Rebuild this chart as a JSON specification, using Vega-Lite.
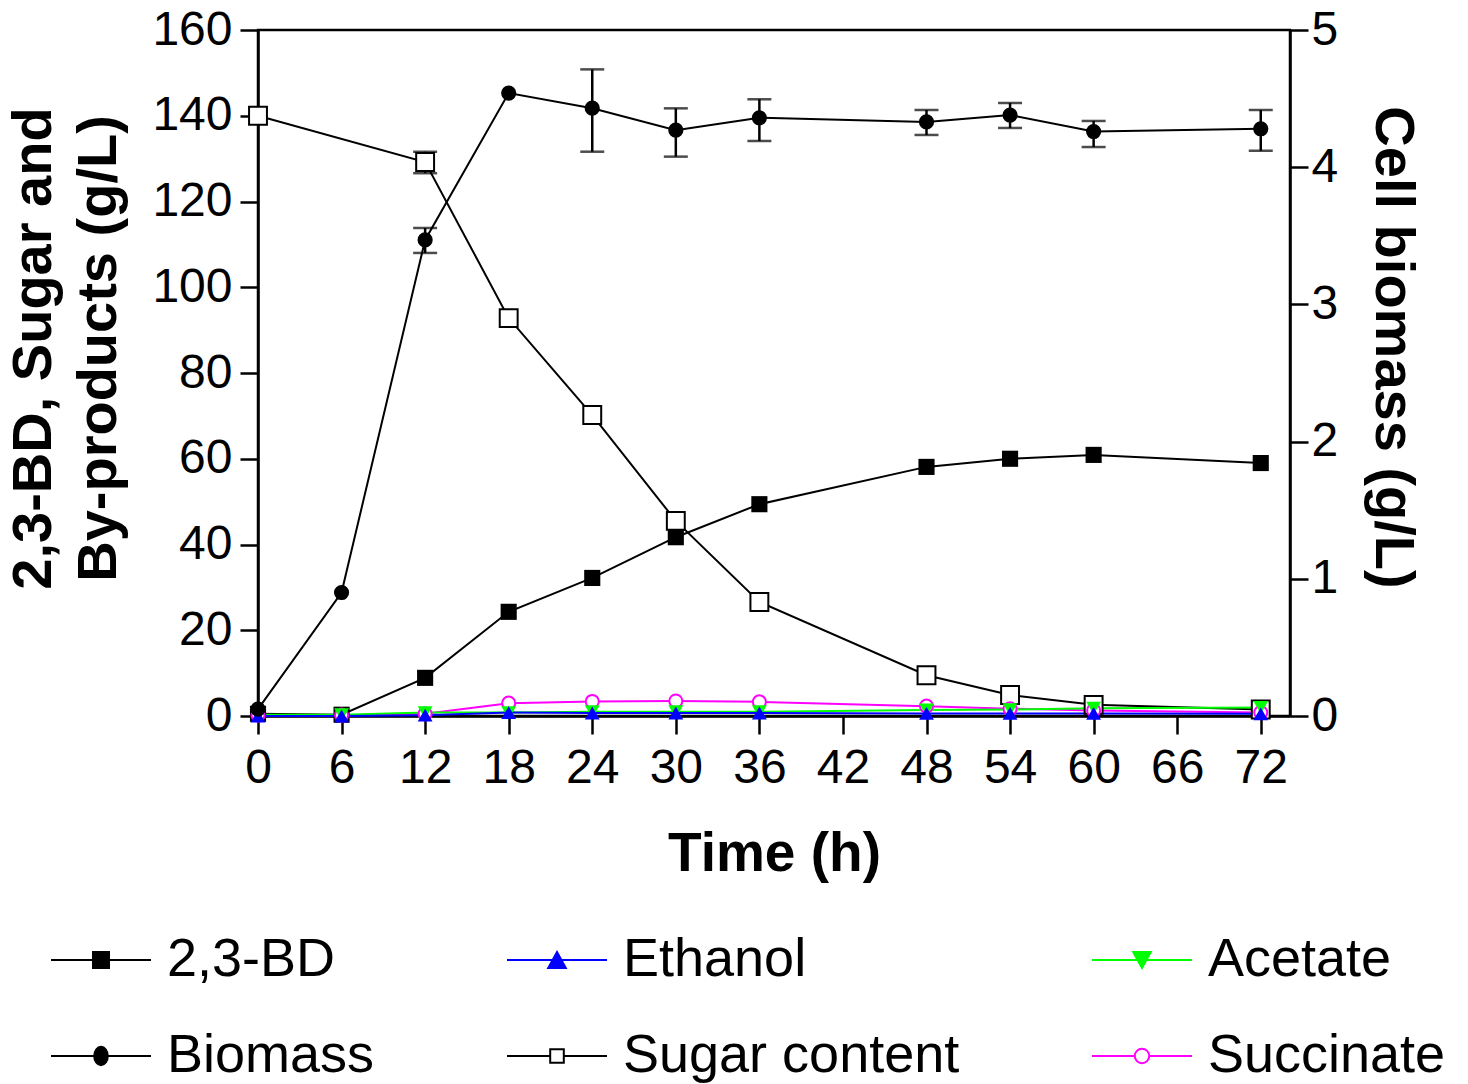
{
  "$schema": "https://vega.github.io/schema/vega-lite/v6.json",
  "width": 1032,
  "height": 686,
  "autosize": {"type": "none"},
  "padding": {"left": 258, "top": 30, "right": 178, "bottom": 368},
  "background": "white",
  "config": {
    "font": "Liberation Sans",
    "view": {"stroke": "black", "strokeWidth": 2.5},
    "axis": {
      "grid": false, "domainColor": "black", "domainWidth": 2.5,
      "tickColor": "black", "tickWidth": 2.5, "tickSize": 18,
      "labelColor": "black", "labelFontSize": 48, "labelFont": "Liberation Sans",
      "labelOverlap": false, "labelFlush": false,
      "titleFont": "Liberation Sans", "titleColor": "black", "titleFontWeight": "bold", "titleFontSize": 56
    },
    "legend": {
      "orient": "none", "legendX": -229, "legendY": 903, "columns": 3, "direction": "horizontal",
      "labelFontSize": 54, "labelColor": "black", "labelFont": "Liberation Sans", "labelLimit": 600,
      "symbolSize": 256, "symbolOffset": 45, "labelOffset": 39, "symbolStrokeWidth": 2, "symbolOpacity": 1,
      "rowPadding": 42, "columnPadding": 110, "padding": 0
    }
  },
  "datasets": {
    "main": [
      {"series": "2,3-BD", "t": 0, "v": 0.5},
      {"series": "2,3-BD", "t": 6, "v": 0.3},
      {"series": "2,3-BD", "t": 12, "v": 8.9},
      {"series": "2,3-BD", "t": 18, "v": 24.3},
      {"series": "2,3-BD", "t": 24, "v": 32.2},
      {"series": "2,3-BD", "t": 30, "v": 41.7},
      {"series": "2,3-BD", "t": 36, "v": 49.4},
      {"series": "2,3-BD", "t": 48, "v": 58.1},
      {"series": "2,3-BD", "t": 54, "v": 60.0},
      {"series": "2,3-BD", "t": 60, "v": 60.9},
      {"series": "2,3-BD", "t": 72, "v": 59.0},
      {"series": "Sugar content", "t": 0, "v": 140.0},
      {"series": "Sugar content", "t": 12, "v": 129.2, "lo": 126.6, "hi": 131.6},
      {"series": "Sugar content", "t": 18, "v": 92.8},
      {"series": "Sugar content", "t": 24, "v": 70.2},
      {"series": "Sugar content", "t": 30, "v": 45.5},
      {"series": "Sugar content", "t": 36, "v": 26.6},
      {"series": "Sugar content", "t": 48, "v": 9.5},
      {"series": "Sugar content", "t": 54, "v": 4.9},
      {"series": "Sugar content", "t": 60, "v": 2.6},
      {"series": "Sugar content", "t": 72, "v": 1.5},
      {"series": "Succinate", "t": 0, "v": 0.2},
      {"series": "Succinate", "t": 6, "v": 0.2},
      {"series": "Succinate", "t": 12, "v": 0.5},
      {"series": "Succinate", "t": 18, "v": 3.0},
      {"series": "Succinate", "t": 24, "v": 3.4},
      {"series": "Succinate", "t": 30, "v": 3.5},
      {"series": "Succinate", "t": 36, "v": 3.3},
      {"series": "Succinate", "t": 48, "v": 2.3},
      {"series": "Succinate", "t": 54, "v": 1.7},
      {"series": "Succinate", "t": 60, "v": 1.3},
      {"series": "Succinate", "t": 72, "v": 0.8},
      {"series": "Acetate", "t": 0, "v": 0.3},
      {"series": "Acetate", "t": 6, "v": 0.3},
      {"series": "Acetate", "t": 12, "v": 0.8},
      {"series": "Acetate", "t": 18, "v": 0.8},
      {"series": "Acetate", "t": 24, "v": 1.0},
      {"series": "Acetate", "t": 30, "v": 1.0},
      {"series": "Acetate", "t": 36, "v": 1.0},
      {"series": "Acetate", "t": 48, "v": 1.4},
      {"series": "Acetate", "t": 54, "v": 1.5},
      {"series": "Acetate", "t": 60, "v": 1.8},
      {"series": "Acetate", "t": 72, "v": 2.0},
      {"series": "Ethanol", "t": 0, "v": 0.0},
      {"series": "Ethanol", "t": 6, "v": 0.0},
      {"series": "Ethanol", "t": 12, "v": 0.2},
      {"series": "Ethanol", "t": 18, "v": 0.8},
      {"series": "Ethanol", "t": 24, "v": 0.7},
      {"series": "Ethanol", "t": 30, "v": 0.7},
      {"series": "Ethanol", "t": 36, "v": 0.7},
      {"series": "Ethanol", "t": 48, "v": 0.6},
      {"series": "Ethanol", "t": 54, "v": 0.6},
      {"series": "Ethanol", "t": 60, "v": 0.6},
      {"series": "Ethanol", "t": 72, "v": 0.5}
    ],
    "bio": [
      {"series": "Biomass", "t": 0, "v": 0.05},
      {"series": "Biomass", "t": 6, "v": 0.90},
      {"series": "Biomass", "t": 12, "v": 3.47, "lo": 3.375, "hi": 3.557},
      {"series": "Biomass", "t": 18, "v": 4.54},
      {"series": "Biomass", "t": 24, "v": 4.43, "lo": 4.113, "hi": 4.713},
      {"series": "Biomass", "t": 30, "v": 4.27, "lo": 4.077, "hi": 4.429},
      {"series": "Biomass", "t": 36, "v": 4.36, "lo": 4.191, "hi": 4.495},
      {"series": "Biomass", "t": 48, "v": 4.33, "lo": 4.235, "hi": 4.417},
      {"series": "Biomass", "t": 54, "v": 4.38, "lo": 4.286, "hi": 4.468},
      {"series": "Biomass", "t": 60, "v": 4.26, "lo": 4.147, "hi": 4.337},
      {"series": "Biomass", "t": 72, "v": 4.28, "lo": 4.120, "hi": 4.417}
    ]
  },
  "encoding": {
    "x": {
      "field": "t", "type": "quantitative",
      "scale": {"domain": [0, 74.1], "nice": false, "zero": false},
      "axis": {"values": [0, 6, 12, 18, 24, 30, 36, 42, 48, 54, 60, 66, 72], "title": "Time (h)", "titleFontSize": 55, "labelPadding": 10, "titlePadding": 35}
    }
  },
  "layer": [
    {
      "data": {"name": "main"},
      "encoding": {
        "y": {"field": "v", "type": "quantitative", "scale": {"domain": [0, 160], "nice": false},
          "axis": {"orient": "left", "values": [0, 20, 40, 60, 80, 100, 120, 140, 160], "title": ["2,3-BD, Sugar and", "By-products (g/L)"], "titleFontSize": 56, "titleLineHeight": 65, "titleY": 318, "labelPadding": 8, "titlePadding": 24}}
      },
      "layer": [
        {
          "mark": {"type": "line", "strokeWidth": 2},
          "encoding": {
            "color": {
              "field": "series", "type": "nominal",
              "scale": {"domain": ["2,3-BD", "Ethanol", "Acetate", "Biomass", "Sugar content", "Succinate"], "range": ["black", "#0000ff", "#00ff00", "black", "black", "#ff00ff"]},
              "legend": {"title": null}
            }
          }
        },
        {
          "mark": {"type": "point", "filled": false, "opacity": 0},
          "encoding": {
            "color": {
              "field": "series", "type": "nominal",
              "scale": {"domain": ["2,3-BD", "Ethanol", "Acetate", "Biomass", "Sugar content", "Succinate"], "range": ["black", "#0000ff", "#00ff00", "black", "black", "#ff00ff"]},
              "legend": {"title": null}
            },
            "shape": {
              "field": "series", "type": "nominal",
              "scale": {"domain": ["2,3-BD", "Ethanol", "Acetate", "Biomass", "Sugar content", "Succinate"],
                "range": ["M-6.25,0H-1M1,0H6.25M-1,-1H1V1H-1Z", "M-6.25,0H6.25M0,-1L1.1,1H-1.1Z", "M-6.25,0H6.25M-1.1,-1H1.1L0,1Z", "M-6.25,0H-0.85M0.85,0H6.25M-0.85,0A0.85,1.15,0,1,0,0.85,0A0.85,1.15,0,1,0,-0.85,0Z", "M-6.25,0H-0.85M0.85,0H6.25M-0.85,-0.85H0.85V0.85H-0.85Z", "M-6.25,0H-0.9M0.9,0H6.25M-0.9,0A0.9,0.9,0,1,0,0.9,0A0.9,0.9,0,1,0,-0.9,0Z"]},
              "legend": {"title": null}
            },
            "fill": {
              "field": "series", "type": "nominal",
              "scale": {"domain": ["2,3-BD", "Ethanol", "Acetate", "Biomass", "Sugar content", "Succinate"], "range": ["black", "#0000ff", "#00ff00", "black", "white", "white"]},
              "legend": {"title": null}
            }
          }
        },
        {
          "transform": [{"filter": "isValid(datum.lo)"}],
          "mark": {"type": "rule", "strokeWidth": 2.5, "color": "black"},
          "encoding": {
            "y": {"field": "lo", "type": "quantitative"},
            "y2": {"field": "hi"}
          }
        },
        {
          "transform": [{"filter": "isValid(datum.lo)"}],
          "mark": {"type": "tick", "orient": "horizontal", "size": 24, "thickness": 2.5, "color": "black"},
          "encoding": {"y": {"field": "hi", "type": "quantitative"}}
        },
        {
          "transform": [{"filter": "isValid(datum.lo)"}],
          "mark": {"type": "tick", "orient": "horizontal", "size": 24, "thickness": 2.5, "color": "black"},
          "encoding": {"y": {"field": "lo", "type": "quantitative"}}
        },
        {
          "transform": [{"filter": "datum.series === '2,3-BD'"}],
          "mark": {"type": "point", "shape": "square", "filled": true, "color": "black", "size": 260, "opacity": 1}
        },
        {
          "transform": [{"filter": "datum.series === 'Sugar content'"}],
          "mark": {"type": "point", "shape": "square", "filled": false, "fill": "white", "stroke": "black", "strokeWidth": 2, "size": 320, "opacity": 1}
        },
        {
          "transform": [{"filter": "datum.series === 'Succinate'"}],
          "mark": {"type": "point", "shape": "circle", "filled": false, "fill": "white", "stroke": "#ff00ff", "strokeWidth": 2, "size": 170, "opacity": 1}
        },
        {
          "transform": [{"filter": "datum.series === 'Acetate'"}],
          "mark": {"type": "point", "shape": "triangle-down", "filled": true, "color": "#00ff00", "size": 220, "opacity": 1}
        },
        {
          "transform": [{"filter": "datum.series === 'Ethanol'"}],
          "mark": {"type": "point", "shape": "triangle-up", "filled": true, "color": "#0000ff", "size": 220, "opacity": 1}
        }
      ]
    },
    {
      "data": {"name": "bio"},
      "encoding": {
        "y": {"field": "v", "type": "quantitative", "scale": {"domain": [0, 5], "nice": false},
          "axis": {"orient": "right", "values": [0, 1, 2, 3, 4, 5], "title": "Cell biomass (g/L)", "titleFontSize": 56, "titleY": 317, "labelPadding": 3, "titlePadding": 26}}
      },
      "layer": [
        {
          "mark": {"type": "line", "strokeWidth": 2},
          "encoding": {
            "color": {
              "field": "series", "type": "nominal",
              "scale": {"domain": ["2,3-BD", "Ethanol", "Acetate", "Biomass", "Sugar content", "Succinate"], "range": ["black", "#0000ff", "#00ff00", "black", "black", "#ff00ff"]},
              "legend": {"title": null}
            }
          }
        },
        {
          "transform": [{"filter": "isValid(datum.lo)"}],
          "mark": {"type": "rule", "strokeWidth": 2.5, "color": "black"},
          "encoding": {
            "y": {"field": "lo", "type": "quantitative"},
            "y2": {"field": "hi"}
          }
        },
        {
          "transform": [{"filter": "isValid(datum.lo)"}],
          "mark": {"type": "tick", "orient": "horizontal", "size": 24, "thickness": 2.5, "color": "black"},
          "encoding": {"y": {"field": "hi", "type": "quantitative"}}
        },
        {
          "transform": [{"filter": "isValid(datum.lo)"}],
          "mark": {"type": "tick", "orient": "horizontal", "size": 24, "thickness": 2.5, "color": "black"},
          "encoding": {"y": {"field": "lo", "type": "quantitative"}}
        },
        {
          "mark": {"type": "point", "shape": "circle", "filled": true, "color": "black", "size": 230, "opacity": 1}
        }
      ]
    }
  ],
  "resolve": {"scale": {"y": "independent"}}
}
